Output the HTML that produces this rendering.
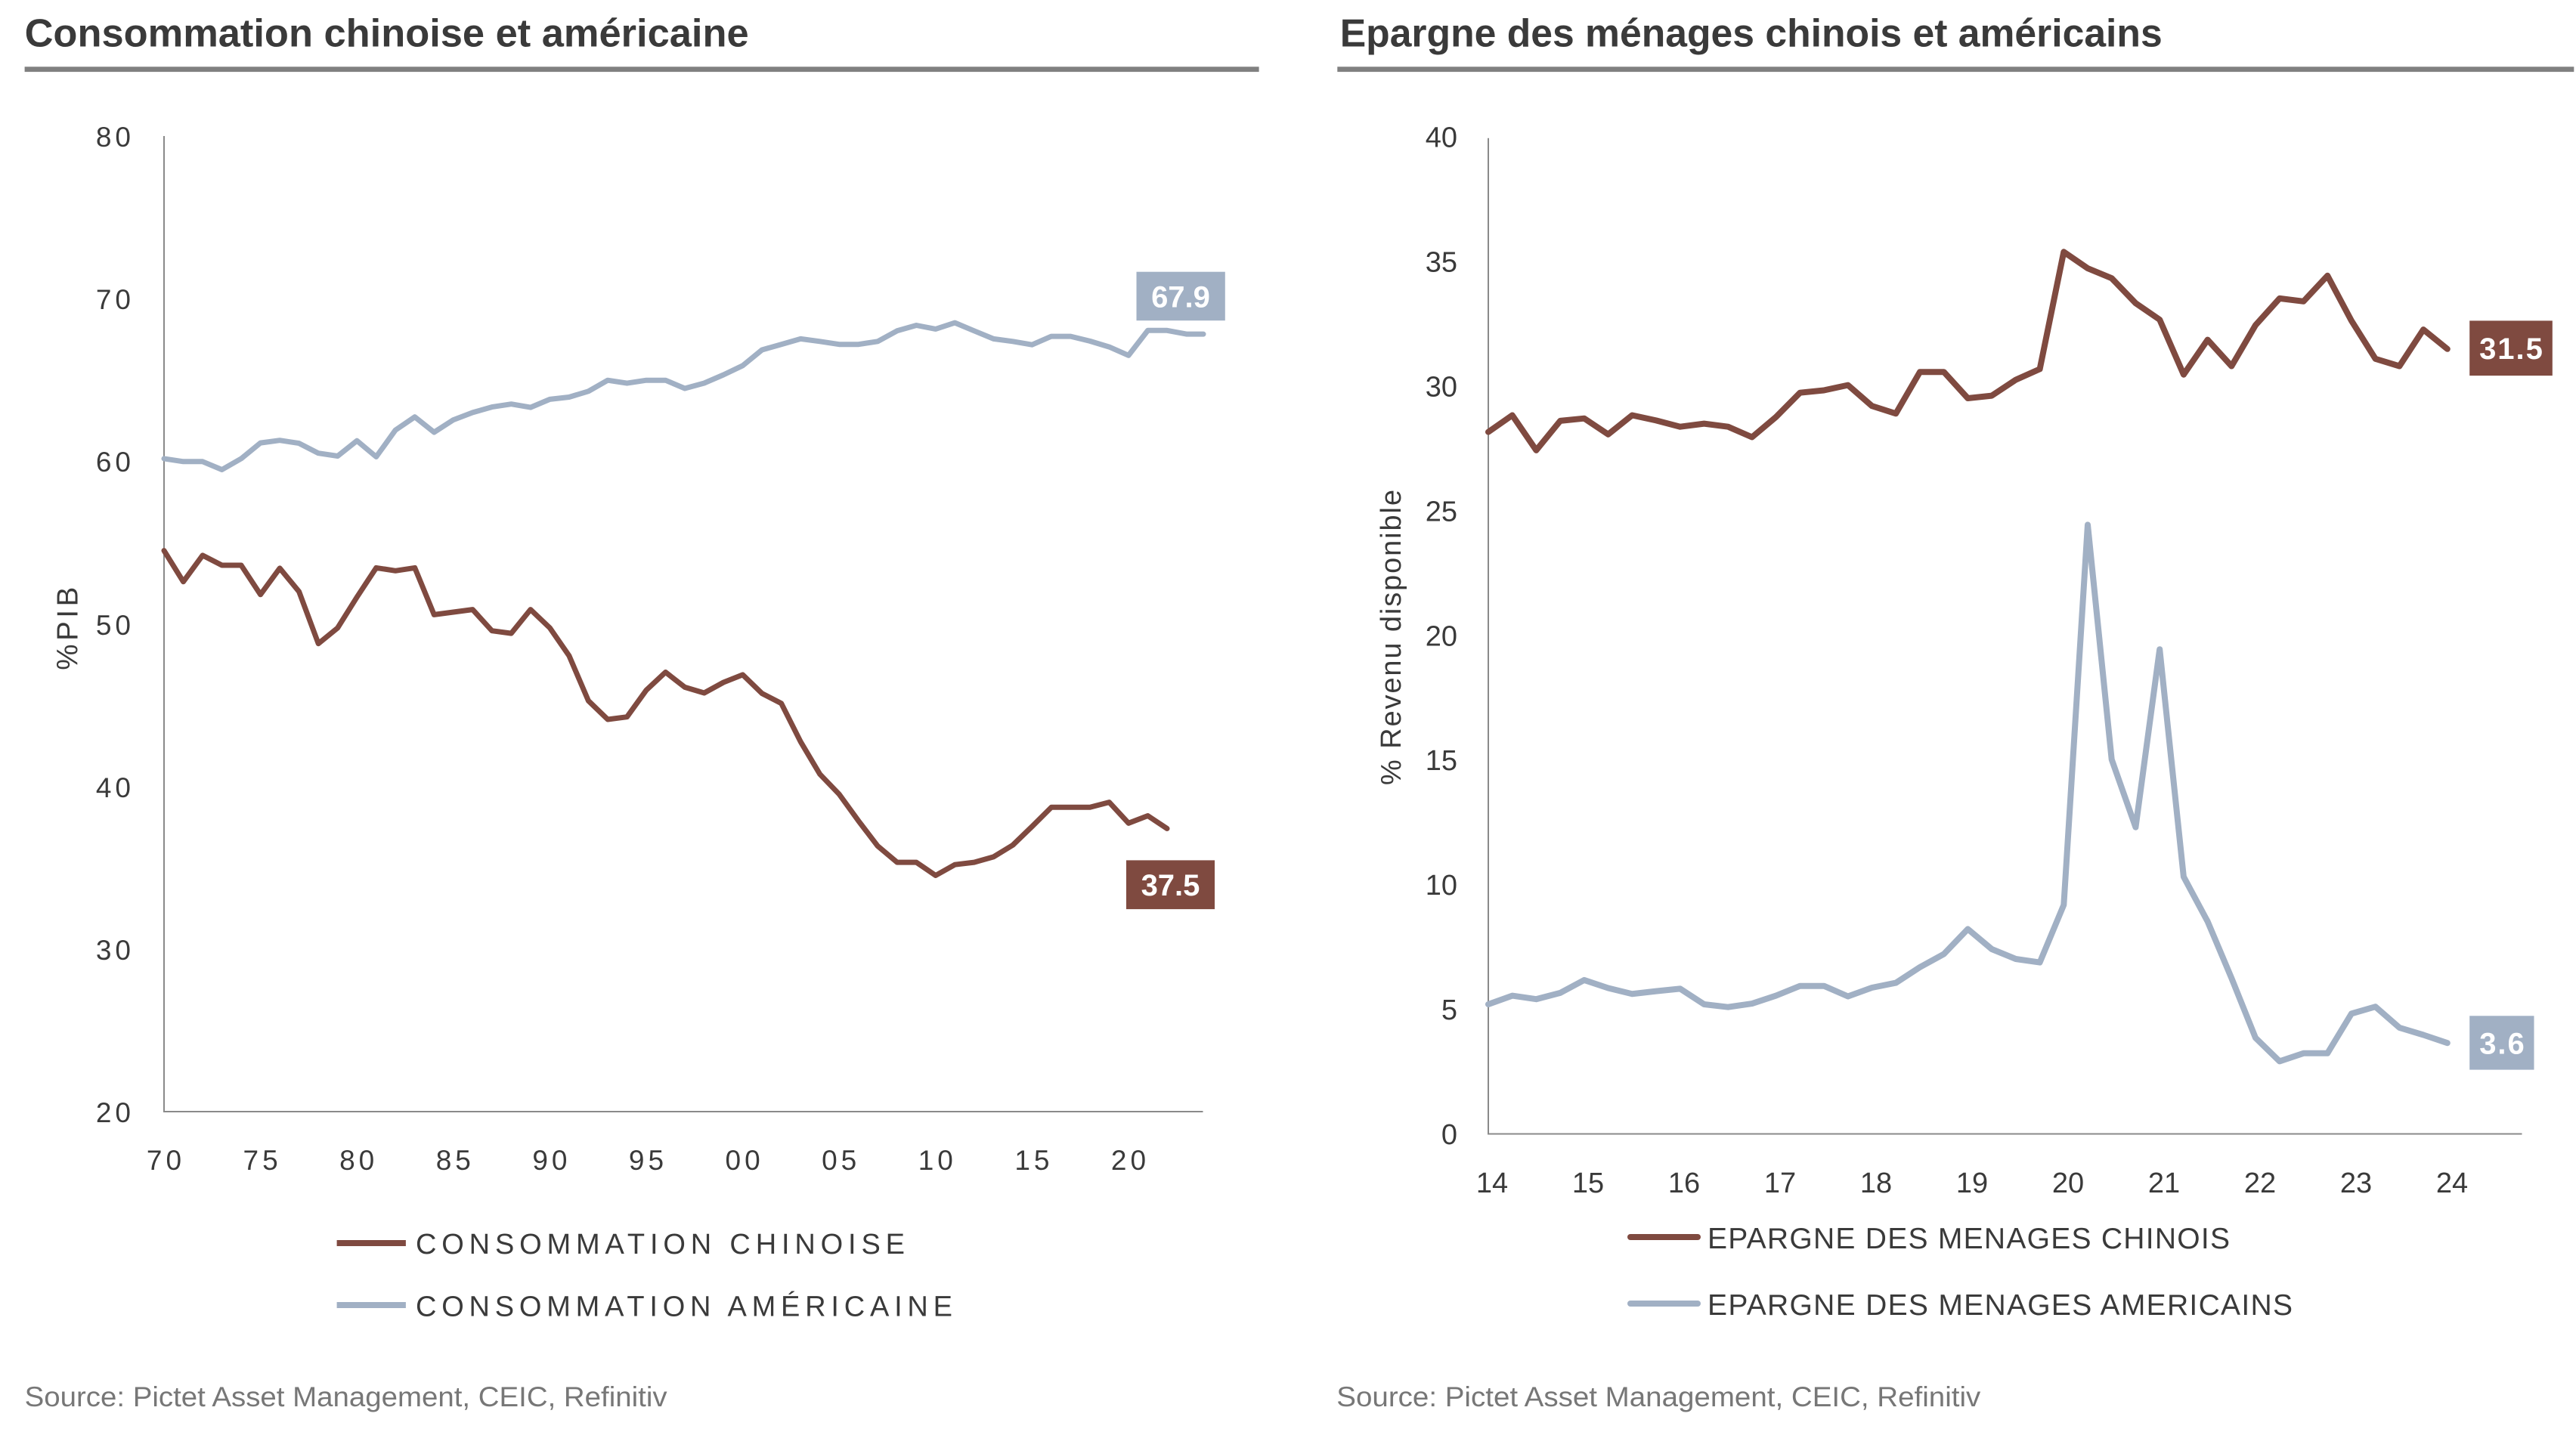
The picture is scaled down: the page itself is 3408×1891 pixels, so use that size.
<!DOCTYPE html>
<html>
<head>
<meta charset="utf-8">
<style>
html,body{margin:0;padding:0;background:#fff;}
svg{display:block;}
text{font-family:"Liberation Sans",Arial,sans-serif;}
</style>
</head>
<body>
<svg width="3408" height="1891" viewBox="0 0 3408 1891" xmlns="http://www.w3.org/2000/svg">
<rect x="0" y="0" width="3408" height="1891" fill="#ffffff"/>

<!-- ================= LEFT CHART ================= -->
<text x="32.6" y="61.5" font-size="52" font-weight="bold" fill="#3a3a3a" textLength="958" lengthAdjust="spacingAndGlyphs">Consommation chinoise et américaine</text>
<rect x="32.6" y="88.3" width="1633" height="6.8" fill="#808080"/>

<!-- axes -->
<line x1="217" y1="180" x2="217" y2="1471" stroke="#8a8a8a" stroke-width="2"/>
<line x1="216" y1="1471" x2="1591.5" y2="1471" stroke="#8a8a8a" stroke-width="2"/>

<!-- y tick labels -->
<g font-size="37" fill="#3a3a3a" text-anchor="end" letter-spacing="5">
<text x="178" y="194">80</text>
<text x="178" y="624">60</text>
<text x="178" y="409">70</text>
<text x="178" y="840">50</text>
<text x="178" y="1055">40</text>
<text x="178" y="1270">30</text>
<text x="178" y="1485">20</text>
</g>

<!-- x tick labels -->
<g font-size="37" fill="#3a3a3a" text-anchor="middle" letter-spacing="5">
<text x="219.5" y="1548">70</text>
<text x="347.1" y="1548">75</text>
<text x="474.7" y="1548">80</text>
<text x="602.3" y="1548">85</text>
<text x="729.9" y="1548">90</text>
<text x="857.5" y="1548">95</text>
<text x="985.1" y="1548">00</text>
<text x="1112.7" y="1548">05</text>
<text x="1240.3" y="1548">10</text>
<text x="1367.9" y="1548">15</text>
<text x="1495.5" y="1548">20</text>
</g>

<!-- y axis title -->
<text transform="translate(102.7,886.7) rotate(-90)" x="0" y="0" font-size="38.5" fill="#3a3a3a" textLength="110">%PIB</text>

<!-- US consumption -->
<polyline fill="none" stroke="#A1B0C4" stroke-width="7" stroke-linejoin="round" stroke-linecap="round" points="
217.0,606.9 242.5,610.8 268.0,610.8 293.6,621.5 319.1,606.9 344.6,586.1 370.1,582.7 395.6,586.6 421.2,599.7 446.7,603.5
472.2,583.2 497.7,604.5 523.2,569.1 548.8,551.7 574.3,572.0 599.8,555.6 625.3,545.9 650.8,538.6 676.4,534.7 701.9,539.1
727.4,528.4 752.9,525.5 778.4,517.8 804.0,503.2 829.5,507.1 855.0,503.2 880.5,503.2 906.0,514.0 931.6,507.0 957.1,496.0
982.6,483.8 1008.1,463.0 1033.6,455.7 1059.2,448.4 1084.7,451.8 1110.2,455.7 1135.7,455.7 1161.2,451.8 1186.8,437.8 1212.3,430.5
1237.8,435.4 1263.3,427.1 1288.8,437.8 1314.4,448.4 1339.9,451.8 1365.4,456.2 1390.9,445.1 1416.4,445.1 1442.0,451.4 1467.5,459.1
1493.0,470.3 1518.5,437.3 1544.0,437.3 1569.6,442.1 1592.0,442.1"/>

<!-- China consumption -->
<polyline fill="none" stroke="#7F4A40" stroke-width="7" stroke-linejoin="round" stroke-linecap="round" points="
217.0,728.6 242.5,769.8 268.0,734.9 293.6,748.0 319.1,748.0 344.6,786.8 370.1,751.9 395.6,782.9 421.2,851.7 446.7,830.9
472.2,790.2 497.7,751.4 523.2,755.3 548.8,751.4 574.3,813.4 599.8,810.0 625.3,806.6 650.8,834.7 676.4,838.1 701.9,806.6
727.4,830.9 752.9,867.7 778.4,927.3 804.0,952.0 829.5,948.7 855.0,913.3 880.5,889.5 906.0,909.4 931.6,917.0 957.1,903.0
982.6,892.9 1008.1,917.6 1033.6,930.7 1059.2,981.6 1084.7,1024.5 1110.2,1051.0 1135.7,1086.2 1161.2,1119.6 1186.8,1141.1 1212.3,1141.1
1237.8,1158.5 1263.3,1144.2 1288.8,1141.1 1314.4,1133.9 1339.9,1118.3 1365.4,1093.7 1390.9,1068.3 1416.4,1068.3 1442.0,1068.3 1467.5,1061.6
1493.0,1089.3 1518.5,1079.5 1544.0,1096.4"/>

<!-- value labels -->
<rect x="1503.5" y="359.7" width="117.3" height="64.5" fill="#A1B0C4"/>
<text x="1562" y="406.5" font-size="40" font-weight="bold" fill="#ffffff" text-anchor="middle">67.9</text>
<rect x="1490" y="1138.4" width="117" height="64.7" fill="#7F4A40"/>
<text x="1548.5" y="1185" font-size="40" font-weight="bold" fill="#ffffff" text-anchor="middle">37.5</text>

<!-- legend -->
<line x1="445.6" y1="1645" x2="536.9" y2="1645" stroke="#7F4A40" stroke-width="8"/>
<text x="550" y="1659" font-size="38" fill="#3a3a3a" textLength="647">CONSOMMATION CHINOISE</text>
<line x1="445.6" y1="1727" x2="536.9" y2="1727" stroke="#A1B0C4" stroke-width="8"/>
<text x="550" y="1741.5" font-size="38" fill="#3a3a3a" textLength="710">CONSOMMATION AMÉRICAINE</text>

<!-- source -->
<text x="32.6" y="1861" font-size="37" fill="#777777" textLength="850" lengthAdjust="spacingAndGlyphs">Source: Pictet Asset Management, CEIC, Refinitiv</text>

<!-- ================= RIGHT CHART ================= -->
<text x="1772.7" y="61.5" font-size="52" font-weight="bold" fill="#3a3a3a" textLength="1088" lengthAdjust="spacingAndGlyphs">Epargne des ménages chinois et américains</text>
<rect x="1769.3" y="88.3" width="1636" height="6.8" fill="#808080"/>

<!-- axes -->
<line x1="1969" y1="182.7" x2="1969" y2="1500.5" stroke="#8a8a8a" stroke-width="2"/>
<line x1="1968" y1="1500.5" x2="3336.5" y2="1500.5" stroke="#8a8a8a" stroke-width="2"/>

<!-- y tick labels -->
<g font-size="38" fill="#3a3a3a" text-anchor="end">
<text x="1928" y="194.5">40</text>
<text x="1928" y="359.5">35</text>
<text x="1928" y="524.5">30</text>
<text x="1928" y="689.5">25</text>
<text x="1928" y="854.5">20</text>
<text x="1928" y="1019">15</text>
<text x="1928" y="1184">10</text>
<text x="1928" y="1349">5</text>
<text x="1928" y="1514">0</text>
</g>

<!-- x tick labels -->
<g font-size="38" fill="#3a3a3a" text-anchor="middle">
<text x="1974" y="1578">14</text>
<text x="2101" y="1578">15</text>
<text x="2228" y="1578">16</text>
<text x="2355" y="1578">17</text>
<text x="2482" y="1578">18</text>
<text x="2609" y="1578">19</text>
<text x="2736" y="1578">20</text>
<text x="2863" y="1578">21</text>
<text x="2990" y="1578">22</text>
<text x="3117" y="1578">23</text>
<text x="3244" y="1578">24</text>
</g>

<!-- y axis title -->
<text transform="translate(1853,1039) rotate(-90)" x="0" y="0" font-size="38" fill="#3a3a3a" textLength="391">% Revenu disponible</text>

<!-- China savings -->
<polyline fill="none" stroke="#7F4A40" stroke-width="8" stroke-linejoin="round" stroke-linecap="round" points="
1969.0,571.6 2000.7,549.5 2032.4,595.9 2064.2,556.9 2095.9,553.7 2127.6,574.8 2159.3,549.5 2191.0,556.4 2222.8,564.7 2254.5,560.6
2286.2,564.7 2317.9,578.5 2349.6,551.8 2381.4,519.7 2413.1,516.5 2444.8,509.6 2476.5,537.2 2508.2,547.3 2540.0,492.2 2571.7,492.2
2603.4,527.0 2635.1,523.6 2666.8,502.6 2698.6,488.4 2730.3,333.3 2762.0,355.1 2793.7,368.2 2825.4,401.2 2857.2,423.0 2888.9,495.7
2920.6,449.6 2952.3,484.5 2984.0,430.3 3015.8,394.9 3047.5,398.8 3079.2,364.8 3110.9,424.4 3142.6,474.8 3174.4,484.5 3206.1,436.1
3237.8,461.8"/>

<!-- US savings -->
<polyline fill="none" stroke="#A1B0C4" stroke-width="8" stroke-linejoin="round" stroke-linecap="round" points="
1969.0,1329.0 2000.7,1317.6 2032.4,1322.2 2064.2,1313.9 2095.9,1296.9 2127.6,1307.5 2159.3,1315.3 2191.0,1311.6 2222.8,1308.4 2254.5,1329.0
2286.2,1332.7 2317.9,1328.1 2349.6,1317.6 2381.4,1304.7 2413.1,1304.7 2444.8,1318.5 2476.5,1307.0 2508.2,1300.6 2540.0,1279.9 2571.7,1262.5
2603.4,1229.4 2635.1,1256.0 2666.8,1269.0 2698.6,1273.6 2730.3,1197.5 2762.0,694.4 2793.7,1005.0 2825.4,1094.7 2857.2,859.2 2888.9,1160.2
2920.6,1219.3 2952.3,1294.4 2984.0,1373.4 3015.8,1404.4 3047.5,1393.8 3079.2,1393.8 3110.9,1341.4 3142.6,1332.2 3174.4,1359.9 3206.1,1369.5
3237.8,1380.2"/>

<!-- value labels -->
<rect x="3267.2" y="424.4" width="109.6" height="72.7" fill="#7F4A40"/>
<text x="3323" y="475" font-size="40" font-weight="bold" fill="#ffffff" text-anchor="middle" letter-spacing="2">31.5</text>
<rect x="3267.2" y="1344.3" width="85.3" height="71.3" fill="#A1B0C4"/>
<text x="3311" y="1394.5" font-size="40" font-weight="bold" fill="#ffffff" text-anchor="middle" letter-spacing="2">3.6</text>

<!-- legend -->
<line x1="2157" y1="1637" x2="2246" y2="1637" stroke="#7F4A40" stroke-width="8" stroke-linecap="round"/>
<text x="2259" y="1652" font-size="39" fill="#3a3a3a" textLength="691">EPARGNE DES MENAGES CHINOIS</text>
<line x1="2157" y1="1725" x2="2246" y2="1725" stroke="#A1B0C4" stroke-width="8" stroke-linecap="round"/>
<text x="2259" y="1740" font-size="39" fill="#3a3a3a" textLength="774">EPARGNE DES MENAGES AMERICAINS</text>

<!-- source -->
<text x="1768.3" y="1861" font-size="37" fill="#777777" textLength="852" lengthAdjust="spacingAndGlyphs">Source: Pictet Asset Management, CEIC, Refinitiv</text>
</svg>
</body>
</html>
